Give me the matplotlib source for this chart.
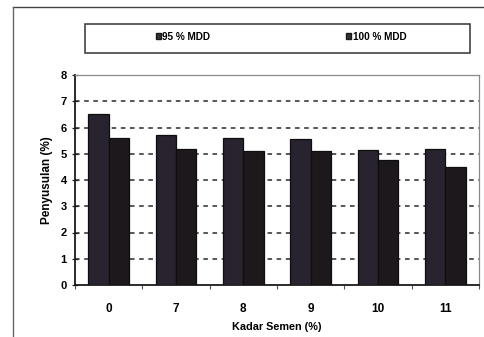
import matplotlib
matplotlib.use("Agg")
import matplotlib.pyplot as plt
from matplotlib.patches import Rectangle, Patch
from matplotlib.lines import Line2D
import numpy as np

categories = ["0", "7", "8", "9", "10", "11"]
mdd95 = [6.5, 5.7, 5.6, 5.55, 5.15, 5.2]
mdd100 = [5.6, 5.2, 5.1, 5.1, 4.75, 4.5]
series_names = ["95 % MDD", "100 % MDD"]
yticks = [0, 1, 2, 3, 4, 5, 6, 7, 8]

plt.rcParams["font.family"] = ["Liberation Sans", "DejaVu Sans"]
plt.rcParams["font.weight"] = "bold"

W, H = 484, 337
fig = plt.figure(figsize=(W / 100, H / 100), dpi=100)
fig.patch.set_facecolor("white")

ax = fig.add_axes([75 / W, 1 - 285 / H, 404 / W, 210 / H])

x = np.arange(len(categories))
bw = 0.3
c1, c2 = "#28232e", "#1d181b"
ax.bar(x - bw / 2, mdd95, bw, color=c1, edgecolor="#0e0e0e", linewidth=0.9, zorder=3)
ax.bar(x + bw / 2, mdd100, bw, color=c2, edgecolor="#0e0e0e", linewidth=0.9, zorder=3)

ax.set_xlim(-0.5, len(categories) - 0.5)
ax.set_ylim(0, 8)
ax.set_yticks(yticks)
ax.set_yticklabels([str(v) for v in yticks], fontsize=8, fontweight="bold")
ax.set_xticks(x)
ax.set_xticklabels(categories, fontsize=8.5, fontweight="bold")
ax.tick_params(axis="x", length=0, pad=13)
ax.set_xticks(np.arange(-0.5, len(categories)), minor=True)
ax.tick_params(axis="x", which="minor", length=3, width=0.8, color="#555555")
ax.tick_params(axis="y", length=4, width=0.9, direction="inout", pad=4, color="#222222")

for v in yticks[1:-1]:
    ax.axhline(v, color="#2a2a2a", linewidth=1.1, linestyle=(0, (3, 3)), zorder=1)

for side in ("top", "right"):
    ax.spines[side].set_color("#8a8a8a")
    ax.spines[side].set_linewidth(0.9)
for side in ("left", "bottom"):
    ax.spines[side].set_color("#1a1a1a")
    ax.spines[side].set_linewidth(1.3)

ax.set_xlabel("Kadar Semen (%)", fontsize=7.8, fontweight="bold", labelpad=5)
ax.set_ylabel("Penyusulan (%)", fontsize=8.5, fontweight="bold", labelpad=5)

# outer chart frame
fig.add_artist(Line2D([13 / W, 1.0], [1 - 7 / H] * 2, transform=fig.transFigure,
                      color="#444444", linewidth=1.0))
fig.add_artist(Line2D([13 / W] * 2, [0, 1 - 7 / H], transform=fig.transFigure,
                      color="#666666", linewidth=1.0))

# legend box
fig.add_artist(Rectangle((85 / W, 1 - 53 / H), 385 / W, 29 / H, transform=fig.transFigure,
                         facecolor="white", edgecolor="#333333", linewidth=1.1))
for name, cx in [(series_names[0], 183), (series_names[1], 376)]:
    h = Patch(facecolor="#333333", edgecolor="#1a1a1a", label=name)
    leg = fig.legend(handles=[h], loc="center", bbox_to_anchor=(cx / W, 1 - 37 / H),
                     frameon=False, fontsize=7.2, handlelength=0.55, handleheight=0.55,
                     handletextpad=0.15, borderpad=0)
    for t in leg.get_texts():
        t.set_fontweight("bold")

fig.savefig("out.png", dpi=100)
